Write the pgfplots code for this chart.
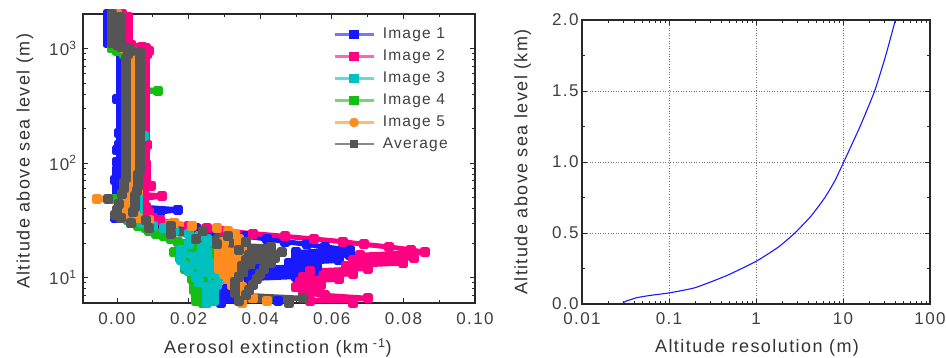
\documentclass[border=0pt]{standalone}
\usepackage{pgfplots}
\pgfplotsset{compat=1.18}
\usepackage{pgfplotstable}
\usepackage{fontspec}
\setmainfont{Liberation Sans}[LetterSpace=8]
\definecolor{cA}{RGB}{25,25,255}
\definecolor{cB}{RGB}{255,0,130}
\definecolor{cC}{RGB}{0,192,192}
\definecolor{cD}{RGB}{20,190,20}
\definecolor{cE}{RGB}{255,140,30}
\definecolor{cF}{RGB}{85,85,85}
\definecolor{frame}{RGB}{40,40,40}

\pgfplotstableread{
alt b p c g o a
2000 -0.0025 0.0015 0.000 -0.001 0.000 -0.0013
1880 -0.001 0.003 0.001 0.000 0.001 0.001
1770 -0.0025 0.0015 0.000 -0.001 0.000 -0.0013
1670 -0.001 0.003 0.001 0.000 0.001 0.001
1580 -0.0025 0.0015 0.000 -0.0015 0.000 -0.0013
1490 -0.001 0.003 0.001 0.000 0.001 0.001
1410 -0.0025 0.0015 0.000 -0.001 0.000 -0.0013
1330 -0.001 0.003 0.001 0.000 0.001 0.001
1260 -0.0025 0.0015 0.000 -0.001 0.000 -0.0013
1190 -0.001 0.003 0.001 0.000 0.001 0.001
1120 -0.0025 0.0015 0.000 -0.0015 0.000 -0.0013
1080 -0.0015 0.004 0.000 -0.0015 0.000 0.000
1040 -0.001 0.007 0.001 -0.001 0.001 0.001
1000 0.000 0.008 0.002 -0.0015 0.002 0.003
960 0.001 0.009 0.004 0.000 0.004 0.004
930 0.001 0.008 0.005 0.002 0.005 0.0065
890 0.0015 0.0085 0.004 0.002 0.004 0.003
850 0.003 0.0078 0.006 0.005 0.006 0.0065
803 0.001 0.0055 0.004 0.003 0.004 0.0025
758 0.003 0.0078 0.006 0.005 0.006 0.0065
716 0.001 0.0055 0.004 0.003 0.004 0.0025
676 0.003 0.0078 0.006 0.005 0.006 0.0065
639 0.001 0.0055 0.004 0.003 0.004 0.0025
603 0.003 0.0078 0.006 0.005 0.006 0.0065
570 0.001 0.0055 0.004 0.003 0.004 0.0025
538 0.003 0.0078 0.006 0.005 0.006 0.0065
508 0.001 0.0055 0.004 0.003 0.004 0.0025
480 0.003 0.0078 0.006 0.005 0.006 0.0065
453 0.001 0.0055 0.004 0.003 0.004 0.0025
428 0.003 0.0078 0.006 0.0115 0.006 0.0065
404 0.001 0.0055 0.004 0.003 0.004 0.0025
382 0.003 0.0078 0.006 0.005 0.006 0.0065
361 0.000 0.0055 0.004 0.003 0.004 0.0025
341 0.003 0.0078 0.006 0.005 0.006 0.0065
322 0.001 0.0055 0.004 0.003 0.004 0.0025
304 0.003 0.0078 0.006 0.005 0.006 0.0065
287 0.001 0.0055 0.004 0.003 0.004 0.0025
271 0.003 0.0078 0.006 0.005 0.006 0.0065
256 0.001 0.0055 0.004 0.003 0.004 0.0025
242 0.003 0.0078 0.006 0.005 0.006 0.0065
229 0.001 0.0055 0.004 0.003 0.004 0.0025
216 0.003 0.0078 0.006 0.005 0.006 0.0065
204 0.001 0.0055 0.004 0.003 0.004 0.0025
193 0.003 0.0078 0.006 0.005 0.006 0.0065
182 0.0005 0.0055 0.004 0.003 0.004 0.0025
172 0.003 0.0078 0.0075 0.005 0.006 0.0065
162.5 0.001 0.0055 0.004 0.003 0.004 0.0025
153.5 0.003 0.0078 0.006 0.005 0.006 0.0065
145 0.0005 0.0085 0.004 0.003 0.004 0.0025
137 0.003 0.0078 0.006 0.005 0.006 0.0065
129 0.000 0.0055 0.004 0.003 0.004 0.0025
122 0.003 0.0078 0.006 0.005 0.006 0.0065
115.5 0.001 0.0055 0.004 0.003 0.004 0.0025
109 0.003 0.0078 0.006 0.005 0.006 0.0065
103 0.000 0.0055 0.004 0.003 0.004 0.0025
97.8 0.001 0.008 0.006 0.005 0.006 0.0065
92.7 0.003 0.0055 0.004 0.003 0.004 0.0025
87.8 0.000 0.008 0.006 0.005 0.006 0.0065
83.2 0.003 0.0055 0.004 0.003 0.004 0.0025
78.9 0.000 0.008 0.006 0.005 0.006 0.006
74.7 0.003 0.0055 0.004 0.003 0.004 0.0025
70.8 -0.0005 0.008 0.006 0.005 0.006 0.006
67.1 0.002 0.0055 0.004 0.003 0.004 0.002
63.6 0.000 0.0095 0.006 0.005 0.006 0.006
60.3 0.003 0.0055 0.004 0.003 0.004 0.002
57.1 0.000 0.0075 0.006 0.005 0.006 0.0055
54.1 0.003 0.0055 0.004 0.003 0.004 0.0015
51.3 0.001 0.0125 0.006 0.004 0.004 0.005
48.6 0.003 0.006 0.004 -0.001 -0.0055 -0.0025
46.1 0.001 0.0075 0.006 0.004 0.004 0.005
43.7 0.004 0.0055 0.004 0.002 0.002 0.0005
41.4 0.006 0.008 0.006 0.004 0.005 0.005
39.2 0.017 0.006 0.004 0.002 0.002 0.000
37.2 0.012 0.009 0.006 0.004 0.005 0.0045
35.2 0.0005 0.007 0.003 0.001 0.002 -0.0005
33.4 -0.0005 0.010 0.002 0.001 0.006 0.001
31.6 0.008 0.012 0.004 0.003 0.009 0.008
30.0 0.012 0.016 0.007 0.004 0.016 0.004
28.4 0.016 0.020 0.010 0.006 0.021 0.015
26.9 0.022 0.025 0.013 0.008 0.028 0.009
25.5 0.026 0.030 0.016 0.009 0.031 0.024
24.2 0.032 0.038 0.020 0.011 0.033 0.015
22.9 0.036 0.047 0.023 0.013 0.031 0.031
21.7 0.042 0.055 0.025 0.015 0.034 0.022
20.6 0.047 0.063 0.025 0.017 0.030 0.036
19.5 0.053 0.069 0.020 0.019 0.034 0.028
18.5 0.058 0.076 0.024 0.021 0.0295 0.043
17.5 0.065 0.082 0.018 0.0275 0.035 0.034
16.6 0.050 0.086 0.025 0.016 0.0285 0.046
15.7 0.065 0.068 0.018 0.0275 0.035 0.037
14.9 0.050 0.083 0.025 0.0175 0.0285 0.044
14.1 0.062 0.066 0.018 0.0275 0.034 0.036
13.4 0.048 0.080 0.026 0.019 0.0285 0.043
12.7 0.056 0.064 0.019 0.0275 0.034 0.035
12.0 0.040 0.070 0.026 0.019 0.0285 0.041
11.4 0.055 0.054 0.020 0.028 0.033 0.035
10.8 0.038 0.066 0.028 0.021 0.030 0.040
10.2 0.050 0.052 0.022 0.028 0.033 0.034
9.7 0.034 0.062 0.029 0.021 0.031 0.039
9.2 0.036 0.051 0.023 0.024 0.034 0.033
8.7 0.031 0.057 0.028 0.0215 0.032 0.038
8.2 0.033 0.050 0.025 0.024 0.035 0.033
7.8 0.029 0.056 0.027 0.0215 0.033 0.037
7.4 0.031 0.052 0.025 0.024 0.035 0.033
7.0 0.028 0.058 0.027 0.022 0.034 0.036
6.6 0.030 0.070 0.025 0.0245 0.038 0.052
6.3 0.045 0.054 0.027 0.022 0.042 0.034
6.0 0.029 0.066 0.025 0.024 0.035 0.048
}\ext

\pgfplotstableread{
r h
0.029 0.0
0.030 0.01
0.032 0.02
0.036 0.03
0.043 0.045
0.060 0.06
0.100 0.078
0.200 0.115
0.460 0.20
1.00 0.30
1.80 0.40
2.80 0.50
4.30 0.62
6.20 0.75
8.10 0.87
10.2 1.00
15.7 1.25
23.1 1.50
31.0 1.75
40.0 2.00
}\res

\pgfplotsset{
  common/.style={
    scale only axis,
    axis line style={line width=1.2pt, frame},
    every tick/.style={frame, line width=0.8pt},
    major tick length=5pt, minor tick length=3pt,
    tick label style={font=\fontsize{17}{20}\selectfont, text=black!75},
    label style={font=\fontsize{18}{20}\selectfont, text=black!80},
    scaled ticks=false,
  },
  dat/.style={forget plot, line width=5pt, line join=round, mark=square*, mark size=2.5pt, #1, mark options={#1}},
}

\begin{document}
\begin{tikzpicture}[x=1pt,y=1pt]
\path[use as bounding box] (0,0) rectangle (946,358);
\begin{axis}[common,
  at={(83pt,55pt)}, anchor=south west, width=392pt, height=289pt,
  xmin=-0.0095, xmax=0.1, ymode=log, ymin=6, ymax=2000,
  xtick={0,0.02,0.04,0.06,0.08,0.1},
  xticklabels={0.00,0.02,0.04,0.06,0.08,0.10},
  minor xtick={0.01,0.03,0.05,0.07,0.09},
  ytick={10,100,1000},
  yticklabels={10\textsuperscript{1},10\textsuperscript{2},10\textsuperscript{3}},
  minor ytick={6,7,8,9,20,30,40,50,60,70,80,90,200,300,400,500,600,700,800,900,2000},
  xticklabel style={yshift=-6pt},
  yticklabel style={xshift=-3pt},
  xlabel={Aerosol extinction (km\textsuperscript{ -1})},
  ylabel={Altitude above sea level (m)},
  xlabel style={at={(axis description cs:0.497,-0.156)}, anchor=center},
  ylabel style={at={(axis description cs:-0.148,0.49)}, anchor=center, rotate=0},
  legend cell align=left,
  legend image code/.code={\draw[#1, mark repeat=2, mark phase=2] plot coordinates {(0pt,0pt) (19.5pt,0pt) (39pt,0pt)};},
  legend style={at={(axis description cs:0.638,0.954)}, anchor=north west, draw=none, fill=none,
    inner sep=0pt, row sep=8pt, column sep=8pt,
    font=\fontsize{15.5}{18}\selectfont, text=black!75,
    nodes={inner sep=0pt, text height=11pt, text depth=3pt}},
]
\addplot[dat=cA] table[x=b,y=alt]{\ext};
\addplot[dat=cB] table[x=p,y=alt]{\ext};
\addplot[dat=cD] table[x=g,y=alt]{\ext};
\addplot[dat=cC] table[x=c,y=alt]{\ext};
\addplot[dat=cE] table[x=o,y=alt]{\ext};
\addplot[dat=cF] table[x=a,y=alt]{\ext};
\addlegendimage{cA!60, line width=2.5pt, mark=square*, mark size=3.5pt, mark options={cA}}
\addlegendentry{Image 1}
\addlegendimage{cB!60, line width=2.5pt, mark=square*, mark size=3.5pt, mark options={cB}}
\addlegendentry{Image 2}
\addlegendimage{cC!60, line width=2.5pt, mark=square*, mark size=3.5pt, mark options={cC}}
\addlegendentry{Image 3}
\addlegendimage{cD!60, line width=2.5pt, mark=square*, mark size=3.5pt, mark options={cD}}
\addlegendentry{Image 4}
\addlegendimage{cE!60, line width=2.5pt, mark=*, mark size=3.5pt, mark options={cE}}
\addlegendentry{Image 5}
\addlegendimage{cF!70, line width=2pt, mark=square*, mark size=3pt, mark options={cF}}
\addlegendentry{Average}
\end{axis}

\begin{axis}[common,
  at={(582pt,54pt)}, anchor=south west, width=348pt, height=284pt,
  xmode=log, xmin=0.01, xmax=100, ymin=0, ymax=2,
  xtick={0.01,0.1,1,10,100},
  xticklabels={0.01,0.1,1,10,100},
  minor xtick={0.02,0.03,0.04,0.05,0.06,0.07,0.08,0.09,0.2,0.3,0.4,0.5,0.6,0.7,0.8,0.9,2,3,4,5,6,7,8,9,20,30,40,50,60,70,80,90},
  ytick={0,0.5,1,1.5,2},
  yticklabels={0.0,0.5,1.0,1.5,2.0},
  minor ytick={0.25,0.75,1.25,1.75},
  grid=major,
  major grid style={black!55, line width=0.7pt, dash pattern=on 0.8pt off 1.8pt},
  xticklabel style={yshift=-5pt},
  xlabel={Altitude resolution (m)},
  ylabel={Altitude above sea level (km)},
  xlabel style={at={(axis description cs:0.503,-0.155)}, anchor=center},
  ylabel style={at={(axis description cs:-0.17,0.5)}, anchor=center, rotate=0},
]
\addplot[color=cA, line width=1.1pt, smooth, tension=0.3] table[x=r,y=h]{\res};
\end{axis}
\end{tikzpicture}
\end{document}
